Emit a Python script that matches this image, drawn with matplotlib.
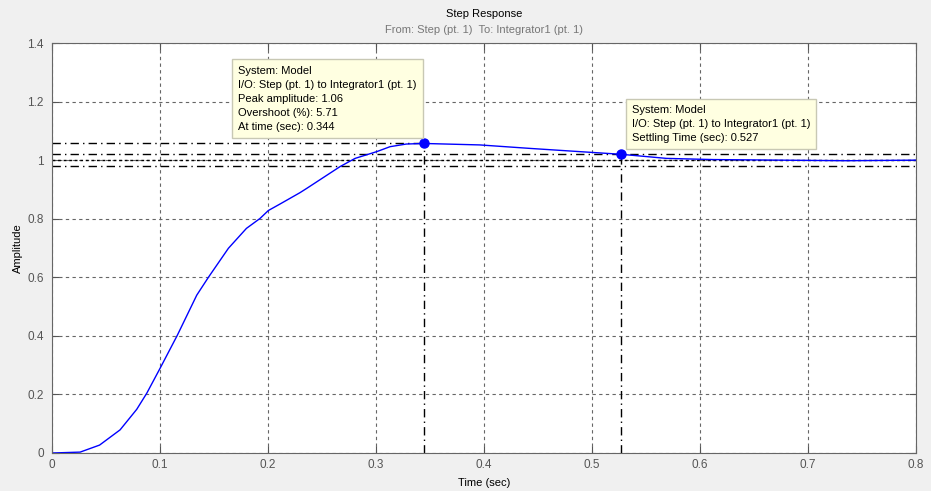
import matplotlib
matplotlib.use("Agg")
import matplotlib.pyplot as plt

# step response samples
t = [0.0, 0.026, 0.044, 0.063, 0.0784, 0.0877, 0.1, 0.116, 0.134, 0.1448, 0.1633, 0.180,
     0.1926, 0.2003, 0.211, 0.2296, 0.236, 0.2667, 0.2806, 0.3006, 0.313, 0.328, 0.344,
     0.396, 0.443, 0.489, 0.527, 0.569, 0.612, 0.674, 0.736, 0.8]
y = [0.0, 0.003, 0.027, 0.079, 0.149, 0.204, 0.289, 0.402, 0.539, 0.600, 0.699, 0.767,
     0.801, 0.828, 0.850, 0.889, 0.904, 0.978, 1.006, 1.029, 1.046, 1.055, 1.057,
     1.052, 1.040, 1.029, 1.02, 1.006, 1.002, 1.0, 0.998, 1.0]

peak_t, peak_y = 0.344, 1.057
settle_t, settle_y = 0.527, 1.02
final_value = 1.0
band = [0.98, 1.02]

xticks = [0, 0.1, 0.2, 0.3, 0.4, 0.5, 0.6, 0.7, 0.8]
yticks = [0, 0.2, 0.4, 0.6, 0.8, 1, 1.2, 1.4]

peak_text = ("System: Model\nI/O: Step (pt. 1) to Integrator1 (pt. 1)\n"
             "Peak amplitude: 1.06\nOvershoot (%): 5.71\nAt time (sec): 0.344")
settle_text = ("System: Model\nI/O: Step (pt. 1) to Integrator1 (pt. 1)\n"
               "Settling Time (sec): 0.527")

plt.rcParams['font.family'] = ['Liberation Sans', 'DejaVu Sans']

fig = plt.figure(figsize=(9.31, 4.91), dpi=100, facecolor='#f0f0f0')
ax = fig.add_axes([0.0559, 0.0774, 0.9280, 0.8350])

grey = '#555555'
ax.grid(True, linestyle=(0, (3, 3)), color='#666666', linewidth=0.8)
ax.set_axisbelow(True)

# characteristic lines
dashdot = [6, 3, 1, 3]
ax.plot([0, peak_t], [peak_y, peak_y], color='k', lw=1, dashes=dashdot)
ax.plot([peak_t, peak_t], [0, peak_y], color='k', lw=1, dashes=dashdot)
for b in band:
    ax.plot([0, 0.8], [b, b], color='k', lw=1, dashes=dashdot)
ax.plot([0, 0.8], [final_value, final_value], color='k', lw=1, dashes=[2, 2])
ax.plot([settle_t, settle_t], [0, settle_y], color='k', lw=1, dashes=dashdot)

ax.plot(t, y, color='#0000ff', lw=1)
ax.plot([peak_t, settle_t], [peak_y, settle_y], 'o', color='#0000ff', markersize=6.5)

ax.set_xlim(0, 0.8)
ax.set_ylim(0, 1.4)
ax.set_xticks(xticks)
ax.set_xticklabels(['0', '0.1', '0.2', '0.3', '0.4', '0.5', '0.6', '0.7', '0.8'])
ax.set_yticks(yticks)
ax.set_yticklabels(['0', '0.2', '0.4', '0.6', '0.8', '1', '1.2', '1.4'])
ax.tick_params(direction='in', length=5, colors=grey, labelsize=8.5,
               top=True, right=True, pad=6)
ax.tick_params(axis='x', pad=4)
for s in ax.spines.values():
    s.set_color('#666666')

ax.set_xlabel('Time (sec)', fontsize=8)
ax.xaxis.set_label_coords(0.5, -0.06)
ax.set_ylabel('Amplitude', fontsize=8)
ax.yaxis.set_label_coords(-0.034, 0.5)

fig.text(0.5199, 0.971, 'Step Response', ha='center', va='center', fontsize=8)
fig.text(0.5199, 0.939, 'From: Step (pt. 1)  To: Integrator1 (pt. 1)',
         ha='center', va='center', fontsize=8, color='#777777')

box = dict(boxstyle='square,pad=0.55', facecolor='#ffffe1', edgecolor='#c8c8b4', lw=1)
ax.text(0.2155, 0.945, peak_text, transform=ax.transAxes, ha='left', va='top',
        fontsize=8, linespacing=1.5, bbox=box)
ax.text(0.671, 0.849, settle_text, transform=ax.transAxes, ha='left', va='top',
        fontsize=8, linespacing=1.5, bbox=box)

fig.savefig('out.png', dpi=100, facecolor=fig.get_facecolor())
